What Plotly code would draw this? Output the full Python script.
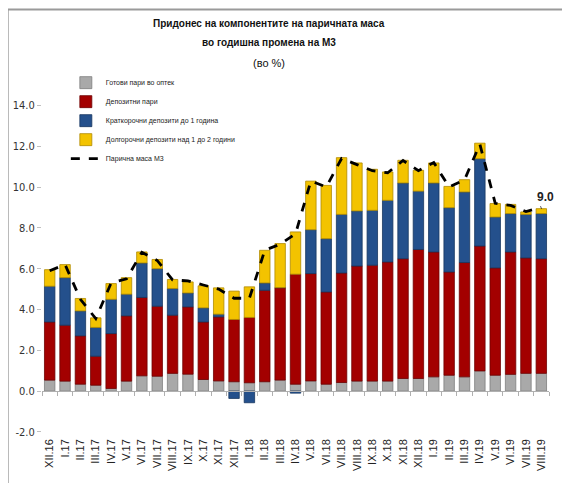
import plotly.graph_objects as go

months = ["XII.16", "I.17", "II.17", "III.17", "IV.17", "V.17", "VI.17", "VII.17", "VIII.17",
          "IX.17", "X.17", "XI.17", "XII.17", "I.18", "II.18", "III.18", "IV.18", "V.18",
          "VI.18", "VII.18", "VIII.18", "IX.18", "X.18", "XI.18", "XII.18", "I.19", "II.19",
          "III.19", "IV.19", "V.19", "VI.19", "VII.19", "VIII.19"]

cash = [0.54, 0.49, 0.34, 0.29, 0.13, 0.49, 0.75, 0.73, 0.87, 0.83, 0.57, 0.50, 0.46, 0.41,
        0.46, 0.54, 0.34, 0.50, 0.34, 0.42, 0.49, 0.49, 0.49, 0.62, 0.62, 0.70, 0.78, 0.70,
        0.99, 0.78, 0.82, 0.87, 0.87]
demand_dep = [2.85, 2.74, 2.37, 1.42, 2.69, 3.20, 3.84, 3.43, 2.85, 3.30, 2.82, 3.14, 3.05,
              3.20, 4.48, 4.53, 5.39, 5.26, 4.52, 5.37, 5.64, 5.68, 5.84, 5.87, 6.32, 6.12,
              5.06, 5.60, 6.12, 5.26, 6.00, 5.66, 5.62]
short_dep = [1.75, 2.33, 1.22, 1.41, 1.68, 1.06, 1.69, 1.84, 1.31, 0.68, 0.69, 0.13, -0.36,
             -0.57, 0.36, 0.00, -0.10, 2.15, 2.61, 2.87, 2.70, 2.69, 3.02, 3.71, 2.86, 3.38,
             3.15, 3.46, 4.28, 2.49, 1.88, 2.13, 2.21]
long_dep = [0.81, 0.64, 0.61, 0.47, 0.77, 0.81, 0.54, 0.45, 0.44, 0.54, 1.08, 1.29, 1.39,
            1.50, 1.60, 2.16, 2.07, 2.38, 2.61, 2.78, 2.35, 2.01, 1.39, 1.11, 1.02, 0.98,
            1.04, 0.60, 0.76, 0.66, 0.45, 0.12, 0.24]
m3 = [5.9, 6.2, 4.5, 3.55, 5.3, 5.5, 6.8, 6.4, 5.45, 5.4, 5.2, 5.0, 4.55, 4.55, 6.9, 7.2,
      7.7, 10.3, 10.0, 11.4, 11.1, 10.8, 10.7, 11.3, 10.8, 11.2, 10.0, 10.35, 12.1, 9.2,
      9.1, 8.8, 9.0]

title_lines = ["Придонес на компонентите на паричната маса", "во годишна промена на М3", "(во %)"]

series = [
    ("Готови пари во оптек", cash, "#a9a9a9", "#7f7f7f"),
    ("Депозитни пари", demand_dep, "#a30000", "#6e0000"),
    ("Краткорочни депозити до 1 година", short_dep, "#24508c", "#163660"),
    ("Долгорочни депозити над 1 до 2 години", long_dep, "#f3c300", "#b08a00"),
]

fig = go.Figure()
for name, vals, col, edge in series:
    fig.add_trace(go.Bar(x=months, y=vals, name=name,
                         marker=dict(color=col, line=dict(color=edge, width=0.8))))

fig.add_trace(go.Scatter(x=months, y=m3, name="Парична маса М3", mode="lines",
                         line=dict(color="black", width=2.8, dash="dash")))

# invisible trace to carry the zero-line axis
fig.add_trace(go.Scatter(x=[0, 32], y=[0, 0], xaxis="x2", mode="lines",
                         line=dict(width=0), showlegend=False, hoverinfo="skip"))

ymin, ymax = -2.2, 15.0
tfont = "Liberation Sans Narrow, Liberation Sans, Arial, sans-serif"

fig.add_annotation(x=months[-1], y=m3[-1], text="<b>9.0</b>", showarrow=False,
                   yshift=10, xshift=4,
                   font=dict(family=tfont, size=12, color="#222"))

PW = 506.4
for txt, yp, bold in [(title_lines[0], 1.1740, True), (title_lines[1], 1.1197, True),
                      (title_lines[2], 1.0627, False)]:
    fig.add_annotation(xref="paper", yref="paper", x=(269 - 42.3) / PW, y=yp,
                       xanchor="center", yanchor="middle", showarrow=False,
                       text=f"<b>{txt}</b>" if bold else txt,
                       font=dict(family=tfont, size=10 if bold else 11, color="#111"))

fig.update_layout(
    width=562, height=475,
    margin=dict(l=34.3, r=21.3, t=76.5, b=47, autoexpand=False),
    paper_bgcolor="white", plot_bgcolor="white",
    barmode="relative", bargap=0.32,
    legend=dict(
        x=0.047, y=1.048, xanchor="left", yanchor="top",
        bgcolor="rgba(0,0,0,0)", traceorder="normal", tracegroupgap=0,
        font=dict(family=tfont, size=7, color="#222"),
        itemwidth=30,
    ),
    xaxis=dict(
        type="category", showline=False, ticks="", tickangle=-90,
        range=[-0.5, 32.5], automargin=False,
        tickfont=dict(family="Liberation Sans, sans-serif", size=11, color="#222"),
        showgrid=False, zeroline=False,
    ),
    xaxis2=dict(
        overlaying="x", anchor="free", position=(0 - ymin) / (ymax - ymin),
        range=[-0.5, 32.5], showline=True, linecolor="#b0b0b0", linewidth=1,
        ticks="outside", ticklen=4, tickcolor="#b0b0b0",
        tickmode="linear", tick0=-0.5, dtick=1, automargin=False,
        showticklabels=False, showgrid=False, zeroline=False,
    ),
    yaxis=dict(
        range=[ymin, ymax], tickmode="array", automargin=False,
        tickvals=[-2, 0, 2, 4, 6, 8, 10, 12, 14],
        ticktext=["-2.0", "0.0", "2.0", "4.0", "6.0", "8.0", "10.0", "12.0", "14.0"],
        ticks="outside", ticklen=4, tickcolor="#c0c0c0",
        tickfont=dict(family="DejaVu Sans Condensed, DejaVu Sans, sans-serif", size=11,
                      color="#333"),
        showgrid=False, zeroline=False, showline=False,
    ),
    shapes=[dict(type="rect", xref="paper", yref="paper", x0=-0.0677, x1=1.032,
                 y0=-0.2, y1=1.215, line=dict(color="#9a9a9a", width=2),
                 fillcolor="rgba(0,0,0,0)", layer="above")],
    showlegend=True,
)

fig.write_html("out.html")
